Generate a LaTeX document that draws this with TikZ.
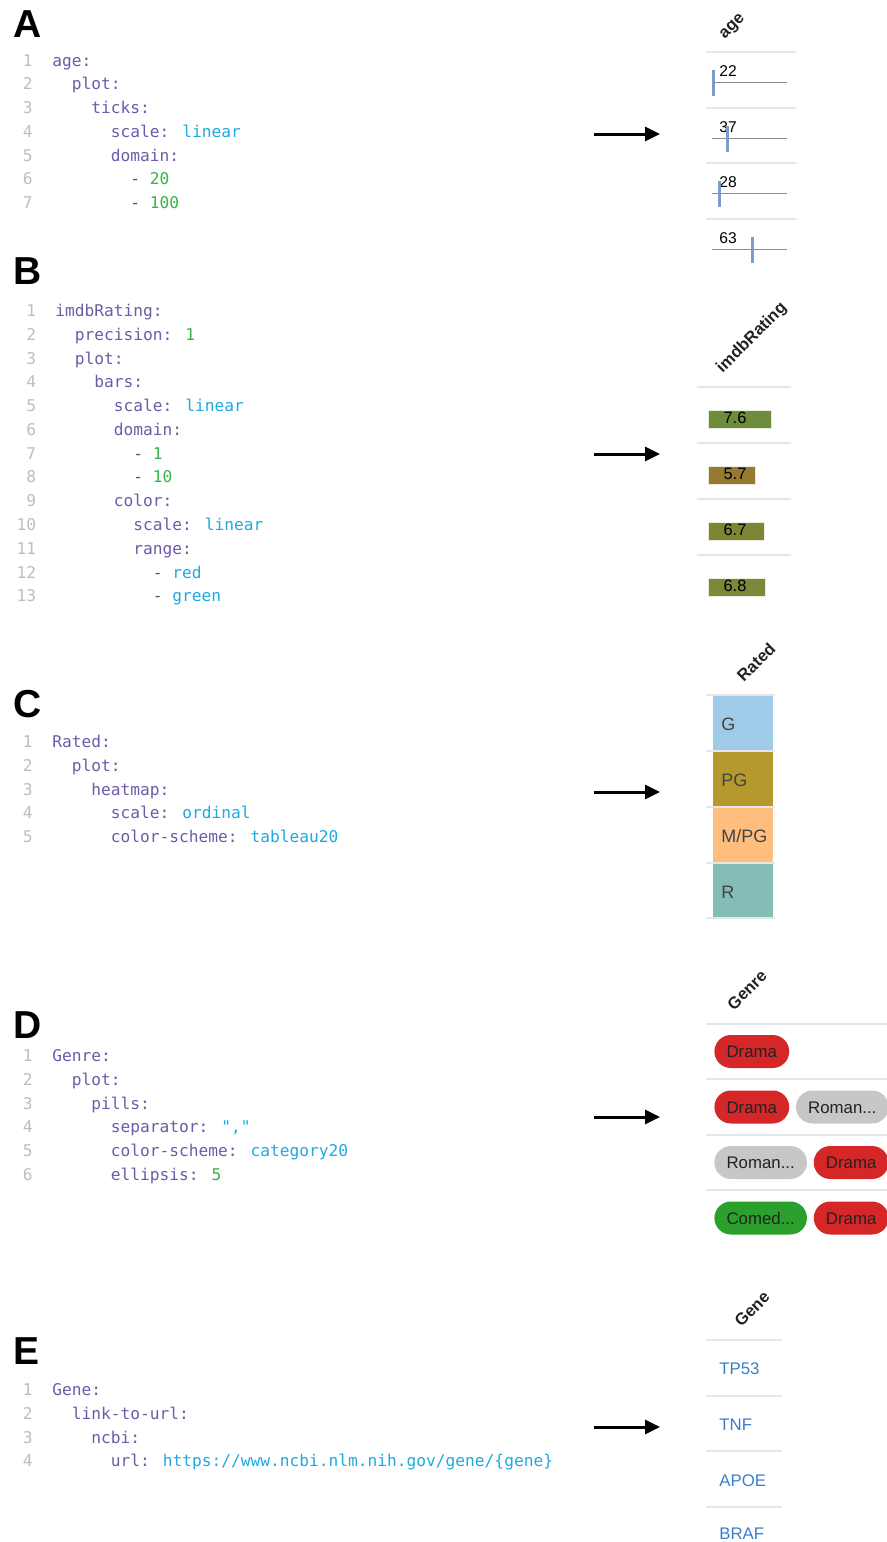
\documentclass[tikz,border=0pt]{standalone}
\usepackage{fontspec}
\setmainfont{Liberation Sans}
\newfontfamily\codefont{DejaVu Sans Mono}
\usepackage{tikz}
\usetikzlibrary{arrows.meta,positioning}

\definecolor{ykey}{HTML}{6E5AA8}
\definecolor{yval}{HTML}{1EAAE1}
\definecolor{ynum}{HTML}{35B448}
\definecolor{ydash}{HTML}{555555}
\definecolor{lncol}{HTML}{BDBDBD}
\definecolor{sepcol}{HTML}{E3E6EB}
\definecolor{axcol}{HTML}{8C8C8C}
\definecolor{tickcol}{HTML}{7B9DC7}
\definecolor{hdcol}{HTML}{222222}
\definecolor{linkcol}{HTML}{3C7DC8}
% bars
\definecolor{barA}{HTML}{6E8C3B}
\definecolor{barB}{HTML}{967A30}
\definecolor{barC}{HTML}{7E8636}
\definecolor{barD}{HTML}{7B8837}
% tableau20
\definecolor{rtG}{HTML}{A0CBE8}
\definecolor{rtPG}{HTML}{B6992D}
\definecolor{rtMPG}{HTML}{FFBE7D}
\definecolor{rtR}{HTML}{86BCB6}
% category20
\definecolor{gDrama}{HTML}{D62728}
\definecolor{gRoman}{HTML}{C7C7C7}
\definecolor{gComed}{HTML}{2CA02C}

\newcommand{\yk}[1]{\textcolor{ykey}{#1}}
\newcommand{\yv}[1]{\textcolor{yval}{#1}}
\newcommand{\yn}[1]{\textcolor{ynum}{#1}}
\newcommand{\yd}{\textcolor{ydash}{-}}
% one yaml line: column, line index, text
\newcommand{\yline}[3]{\node[code] (\blk-#2) at ({\bx+#1*9.75},{\by+(#2-1)*23.78}) {#3};}
% line numbers: count, right edge
\newcommand{\ynums}[2]{\foreach \n in {1,...,#1} \node[lnum] (\blk-n\n) at (#2,{\by+(\n-1)*23.78}) {\n};}

\begin{document}
\begin{tikzpicture}[x=0.5pt,y=-0.5pt,
    panel/.style={anchor=base west,inner sep=0,font=\bfseries\fontsize{19.5}{20}\selectfont},
    code/.style={anchor=base west,inner sep=0,font=\codefont\fontsize{8.1}{10}\selectfont},
    lnum/.style={anchor=base east,inner sep=0,text=lncol,font=\codefont\fontsize{8.1}{10}\selectfont},
    flow/.style={line width=1.5pt,-{Triangle[length=7.5pt,width=7pt]}},
    colhead/.style={rotate=45,inner sep=0,text=hdcol,font=\bfseries\fontsize{8.3}{9}\selectfont},
    sep/.style={sepcol,line width=0.7pt},
    celltext/.style={anchor=base west,inner sep=0,font=\fontsize{7.8}{9}\selectfont},
    heattext/.style={anchor=base west,inner sep=0,text=hdcol!85,font=\fontsize{9}{10}\selectfont},
    pill/.style={rounded corners=8.25pt,minimum height=16.5pt,inner xsep=6.1pt,inner ysep=0,
        text height=6pt,text depth=0pt,text=hdcol,font=\fontsize{8.4}{10}\selectfont},
    genetext/.style={anchor=base west,inner sep=0,text=linkcol,font=\fontsize{8.4}{10}\selectfont},
    node distance=3pt]
    \clip (0,0) rectangle (887,1542);

    % A: ticks
    \node[panel] (labA) at (13,38) {A};
    \def\blk{a}\def\bx{52}\def\by{66}
    \ynums{7}{33}
    \yline{0}{1}{\yk{age:}}
    \yline{2}{2}{\yk{plot:}}
    \yline{4}{3}{\yk{ticks:}}
    \yline{6}{4}{\yk{scale:} \yv{linear}}
    \yline{6}{5}{\yk{domain:}}
    \yline{8}{6}{\yd{} \yn{20}}
    \yline{8}{7}{\yd{} \yn{100}}

    \node[colhead] (hA) at (733,27) {age};
    \foreach \y in {52,108,163,219} \draw[sep] (706,\y) -- (796,\y);
    \foreach \v/\b [count=\i] in {22/76,37/132,28/187,63/243} {
        \draw[axcol,line width=0.5pt] (712,{\b+6}) -- (787,{\b+6});
        \node[celltext] (age\i) at (719,\b) {\v};
        \draw[tickcol,line width=1.5pt] ({712+(\v-20)*75/80},{\b-6}) -- ++(0,26);
    }

    % B: bars
    \node[panel] (labB) at (13,284) {B};
    \def\blk{b}\def\bx{55}\def\by{316.5}
    \ynums{13}{36.5}
    \yline{0}{1}{\yk{imdbRating:}}
    \yline{2}{2}{\yk{precision:} \yn{1}}
    \yline{2}{3}{\yk{plot:}}
    \yline{4}{4}{\yk{bars:}}
    \yline{6}{5}{\yk{scale:} \yv{linear}}
    \yline{6}{6}{\yk{domain:}}
    \yline{8}{7}{\yd{} \yn{1}}
    \yline{8}{8}{\yd{} \yn{10}}
    \yline{6}{9}{\yk{color:}}
    \yline{8}{10}{\yk{scale:} \yv{linear}}
    \yline{8}{11}{\yk{range:}}
    \yline{10}{12}{\yd{} \yv{red}}
    \yline{10}{13}{\yd{} \yv{green}}

    \node[colhead] (hB) at (752,338) {imdbRating};
    \foreach \y in {387,443,499,555} \draw[sep] (697,\y) -- (791,\y);
    \foreach \v/\c [count=\i] in {7.6/barA,5.7/barB,6.7/barC,6.8/barD} {
        \fill[\c,draw=white!85!\c,line width=0.4pt] (708,{419+(\i-1)*56-9}) rectangle ({708+\v*8.4},{419+(\i-1)*56+9});
        \node[celltext,anchor=base,font=\fontsize{8.2}{9}\selectfont] (imdb\i) at (735,{423.5+(\i-1)*56}) {\v};
    }

    % C: heatmap
    \node[panel] (labC) at (13,717) {C};
    \def\blk{c}\def\bx{52}\def\by{747.5}
    \ynums{5}{33}
    \yline{0}{1}{\yk{Rated:}}
    \yline{2}{2}{\yk{plot:}}
    \yline{4}{3}{\yk{heatmap:}}
    \yline{6}{4}{\yk{scale:} \yv{ordinal}}
    \yline{6}{5}{\yk{color-scheme:} \yv{tableau20}}

    \node[colhead] (hC) at (756,662) {Rated};
    \fill[rtG] (713,696) rectangle (773,750);
    \fill[rtPG] (713,752) rectangle (773,806);
    \fill[rtMPG] (713,808) rectangle (773,862);
    \fill[rtR] (713,864) rectangle (773,918);
    \foreach \y in {695,751,807,863,918} \draw[sep] (706,\y) -- (775,\y);
    \node[heattext] (rG) at (721,730) {G};
    \node[heattext] (rPG) at (721,786) {PG};
    \node[heattext] (rMPG) at (721,842) {M/PG};
    \node[heattext] (rR) at (721,898) {R};

    % D: pills
    \node[panel] (labD) at (13,1038) {D};
    \def\blk{d}\def\bx{52}\def\by{1061.5}
    \ynums{6}{33}
    \yline{0}{1}{\yk{Genre:}}
    \yline{2}{2}{\yk{plot:}}
    \yline{4}{3}{\yk{pills:}}
    \yline{6}{4}{\yk{separator:} \yv{\char"22,\char"22}}
    \yline{6}{5}{\yk{color-scheme:} \yv{category20}}
    \yline{6}{6}{\yk{ellipsis:} \yn{5}}

    \node[colhead] (hD) at (747,990) {Genre};
    \foreach \y in {1024,1079,1135,1190} \draw[sep] (706,\y) -- (887,\y);
    \node[pill,fill=gDrama,anchor=west] (g1a) at (714,1051.5) {Drama};
    \node[pill,fill=gDrama,anchor=west] (g2a) at (714,1107) {Drama};
    \node[pill,fill=gRoman,right=of g2a] (g2b) {Roman...};
    \node[pill,fill=gRoman,anchor=west] (g3a) at (714,1162.5) {Roman...};
    \node[pill,fill=gDrama,right=of g3a] (g3b) {Drama};
    \node[pill,fill=gComed,anchor=west] (g4a) at (714,1218) {Comed...};
    \node[pill,fill=gDrama,right=of g4a] (g4b) {Drama};

    % E: links
    \node[panel] (labE) at (13,1364) {E};
    \def\blk{e}\def\bx{52}\def\by{1395.5}
    \ynums{4}{33}
    \yline{0}{1}{\yk{Gene:}}
    \yline{2}{2}{\yk{link-to-url:}}
    \yline{4}{3}{\yk{ncbi:}}
    \yline{6}{4}{\yk{url:} \yv{https://www.ncbi.nlm.nih.gov/gene/\{gene\}}}

    \node[colhead] (hE) at (752,1309) {Gene};
    \foreach \y in {1340,1396,1451,1507} \draw[sep] (706,\y) -- (782,\y);
    \node[genetext] (gTP) at (719,1374) {TP53};
    \node[genetext] (gTNF) at (719,1430) {TNF};
    \node[genetext] (gAPOE) at (719,1486) {APOE};
    \node[genetext] (gBRAF) at (719,1539.5) {BRAF};

    % arrows
    \foreach \y/\n in {134/A,454/B,792/C,1117/D,1427/E} {
        \coordinate (from\n) at (594,\y);
        \coordinate (to\n) at (660,\y);
        \draw[flow] (from\n) -- (to\n);
    }
\end{tikzpicture}
\end{document}
